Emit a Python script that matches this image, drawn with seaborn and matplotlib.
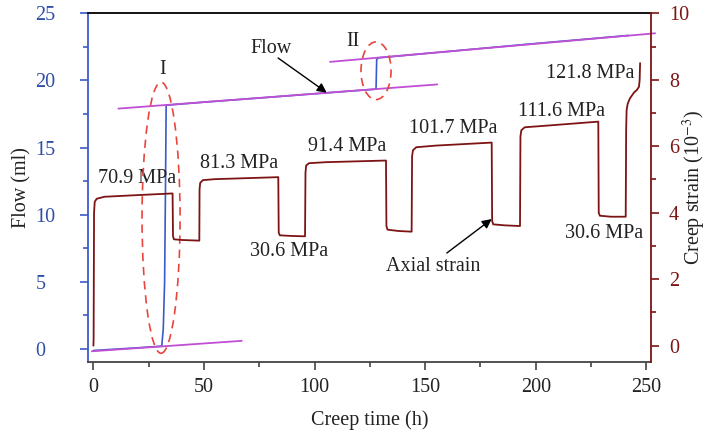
import matplotlib
matplotlib.use("Agg")
import matplotlib.pyplot as plt
import seaborn as sns
import pandas as pd
from matplotlib.patches import Ellipse
from matplotlib.ticker import MultipleLocator

# ---------------- data ----------------
flow_time = [0, 10, 20, 30.9, 31.6, 32.2, 32.6, 32.9, 50, 80, 110, 127.8,
             128.1, 128.8, 133.4, 160, 200, 242]
flow_ml = [-0.12, -0.02, 0.08, 0.2, 1.5, 5.0, 12.0, 18.15, 18.38, 18.75, 19.13,
           19.35, 21.55, 21.68, 21.75, 22.15, 22.75, 23.35]

strain_time = [0.0, 0.1, 0.3, 0.6, 1.5, 5, 20, 35.8,
               36.0, 36.4, 40, 47.9,
               48.0, 48.3, 49.5, 55, 83.6,
               83.8, 84.3, 90, 95.7,
               95.9, 96.2, 97.5, 105, 132.3,
               132.5, 133.0, 138, 143.9,
               144.1, 144.5, 146, 155, 180.1,
               180.3, 180.8, 186, 192.9,
               193.1, 193.5, 195, 205, 228.3,
               228.5, 229.0, 234, 240.7,
               240.9, 241.1, 241.6, 242.6, 244.5, 245.7, 246.7, 247.0, 247.2]
strain_val = [0.0, 0.2, 4.0, 4.33, 4.42, 4.48, 4.53, 4.58,
              3.3, 3.2, 3.18, 3.16,
              4.7, 4.9, 4.98, 5.01, 5.07,
              3.4, 3.32, 3.30, 3.29,
              5.2, 5.42, 5.49, 5.52, 5.57,
              3.6, 3.49, 3.45, 3.43,
              5.7, 5.88, 5.97, 6.02, 6.11,
              3.75, 3.65, 3.62, 3.60,
              6.3, 6.48, 6.57, 6.62, 6.74,
              4.0, 3.91, 3.88, 3.88,
              6.5, 7.09, 7.28, 7.44, 7.62, 7.69, 7.79, 8.0, 8.5]

fit_time = [[-0.7, 67.1], [11.3, 155.5], [107.0, 254.0]]
fit_flow = [[-0.18, 0.6], [17.9, 19.7], [21.38, 23.51]]

stress_labels = ["70.9 MPa", "81.3 MPa", "30.6 MPa", "91.4 MPa",
                 "101.7 MPa", "111.6 MPa", "121.8 MPa", "30.6 MPa"]
stress_x = [19.8, 66.0, 88.7, 114.8, 162.5, 211.7, 224.7, 230.9]
stress_y = [12.72, 13.84, 7.26, 15.07, 16.44, 17.68, 20.54, 8.56]

x_ticks = [0, 50, 100, 150, 200, 250]
left_ticks = [0, 5, 10, 15, 20, 25]
right_ticks = [0, 2, 4, 6, 8, 10]

# ---------------- style ----------------
sns.set_style("ticks")
plt.rcParams['font.family'] = ['Liberation Serif', 'DejaVu Serif']
plt.rcParams['mathtext.fontset'] = 'stix'

BLUE = "#3a5bc7"
BLUE_LBL = "#2f4ea8"
RED = "#7d1414"
PURPLE = "#c04fd4"
DASH = "#e8453c"
TXT = "#222222"
FS = 14.5

fig = plt.figure(figsize=(7.11, 4.34), dpi=100)
ax = fig.add_axes([0.1242, 0.1652, 0.7910, 0.8042])
ax2 = ax.twinx()

flow_df = pd.DataFrame({"t": flow_time, "v": flow_ml})
strain_df = pd.DataFrame({"t": strain_time, "v": strain_val})

sns.lineplot(data=flow_df, x="t", y="v", ax=ax, color=BLUE, lw=1.2,
             sort=False, estimator=None)
for ft, fv in zip(fit_time, fit_flow):
    fd = pd.DataFrame({"t": ft, "v": fv})
    sns.lineplot(data=fd, x="t", y="v", ax=ax, color=PURPLE, lw=1.3,
                 sort=False, estimator=None, clip_on=False)
sns.lineplot(data=strain_df, x="t", y="v", ax=ax2, color=RED, lw=1.3,
             sort=False, estimator=None)

ax.set_xlim(-2.3, 252.0)
ax.set_ylim(-1, 25)
ax2.set_ylim(-0.5, 10)

# ellipses
for c, w, h in [((30.6, 9.77), 17.2, 20.2), ((127.8, 20.72), 13.6, 4.3)]:
    e = Ellipse(c, w, h, fill=False, edgecolor=DASH, lw=1.2,
                linestyle=(0, (5, 3.5)), zorder=5)
    ax.add_patch(e)

# annotations
for s, x, y in zip(stress_labels, stress_x, stress_y):
    ax.text(x, y, s, ha='center', va='center', fontsize=FS, color=TXT)
ax.text(31.1, 20.8, "I", ha='center', va='center', fontsize=FS, color=TXT)
ax.text(117.3, 22.9, "II", ha='center', va='center', fontsize=FS, color=TXT)
ax.text(80.2, 22.4, "Flow", ha='center', va='center', fontsize=FS, color=TXT)
ax.text(153.6, 6.15, "Axial strain", ha='center', va='center', fontsize=FS, color=TXT)
ax.annotate("", xy=(105.5, 19.09), xytext=(83.5, 21.67),
            arrowprops=dict(arrowstyle='-|>', color='black', lw=1.0,
                            mutation_scale=14, shrinkA=0, shrinkB=0))
ax.annotate("", xy=(180.1, 9.67), xytext=(159.8, 7.14),
            arrowprops=dict(arrowstyle='-|>', color='black', lw=1.0,
                            mutation_scale=14, shrinkA=0, shrinkB=0))

# ticks
ax.set_xticks(x_ticks)
ax.xaxis.set_minor_locator(MultipleLocator(25))
ax.set_yticks(left_ticks)
ax.yaxis.set_minor_locator(MultipleLocator(2.5))
ax2.set_yticks(right_ticks)
ax2.yaxis.set_minor_locator(MultipleLocator(1))

ax.tick_params(axis='x', which='major', direction='out', length=6, width=1.2,
               color='#444444', labelcolor=TXT, labelsize=FS, pad=5)
ax.tick_params(axis='x', which='minor', direction='out', length=3.5, width=1.2,
               color='#444444')
ax.tick_params(axis='y', which='major', direction='out', length=6, width=1.2,
               color=BLUE, labelcolor=BLUE_LBL, labelsize=FS, pad=32)
ax.tick_params(axis='y', which='minor', direction='out', length=3.5, width=1.2,
               color=BLUE)
ax2.tick_params(axis='y', which='major', direction='out', length=6, width=1.2,
                color=RED, labelcolor=RED, labelsize=FS, pad=7)
ax2.tick_params(axis='y', which='minor', direction='out', length=3.5, width=1.2,
                color=RED)
for lab in ax.get_yticklabels():
    lab.set_horizontalalignment('left')

# spines
for a in (ax, ax2):
    for sp in a.spines.values():
        sp.set_linewidth(1.3)
ax.spines['left'].set_color(BLUE)
ax.spines['bottom'].set_color('#444444')
ax.spines['top'].set_color('black')
ax.spines['right'].set_visible(False)
ax2.spines['right'].set_color(RED)
ax2.spines['left'].set_visible(False)
ax2.spines['top'].set_visible(False)
ax2.spines['bottom'].set_visible(False)

# labels
ax.set_xlabel("Creep time (h)", fontsize=FS, color=TXT)
ax.xaxis.set_label_coords(0.5, -0.165)
ax.xaxis.label.set_va('center')
ax.set_ylabel("Flow (ml)", fontsize=FS, color=TXT)
ax.yaxis.set_label_coords(-0.118, 0.5)
ax.yaxis.label.set_va('center')
ax2.set_ylabel("Creep strain (10$^{-3}$)", fontsize=FS, color=TXT)
ax2.yaxis.set_label_coords(1.078, 0.5)
ax2.yaxis.label.set_va('center')

fig.savefig("out.png", dpi=100)
